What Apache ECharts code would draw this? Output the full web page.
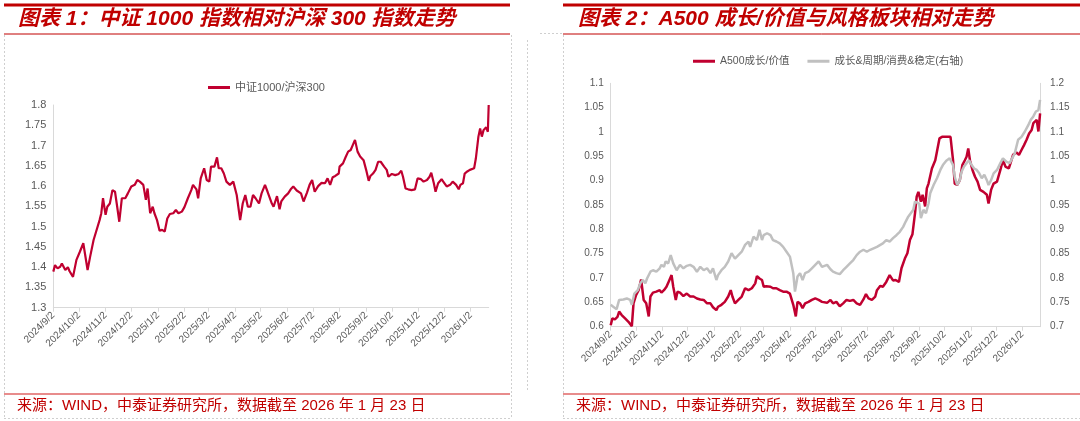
<!DOCTYPE html>
<html>
<head>
<meta charset="utf-8">
<script src="https://cdn.jsdelivr.net/npm/echarts@6/dist/echarts.min.js"></script>
<style>
  html, body { margin: 0; padding: 0; background: #fff; }
  #chart { width: 1080px; height: 421px; }
</style>
</head>
<body>
<div id="chart"></div>
<script>
// calendar days from 2024/9/2 to 2026/1/23, one category per day
const startDay = Date.UTC(2024, 8, 2)
const endDay = Date.UTC(2026, 0, 23)
const dates = []
for (let t = startDay; t <= endDay; t += 86400000) {
  const d = new Date(t)
  dates.push(d.getUTCFullYear() + '/' + (d.getUTCMonth() + 1) + '/' + d.getUTCDate())
}

// 图表1：中证1000/沪深300 (day index since 2024/9/2)
const csiDays = [
  0, 2, 5, 8, 10, 14, 17, 19, 23, 27,
  31, 35, 40, 43, 47, 50, 54, 56, 58, 61,
  63, 66, 69, 72, 74, 77, 80, 84, 87, 91,
  95, 98, 101, 105, 108, 110, 113, 116, 118, 121,
  124, 127, 130, 133, 136, 140, 143, 146, 150, 153,
  157, 161, 163, 167, 169, 172, 176, 179, 182, 184,
  188, 191, 193, 196, 199, 202, 206, 210, 212, 214,
  218, 221, 224, 227, 230, 233, 236, 240, 243, 247,
  250, 252, 255, 257, 261, 264, 266, 270, 274, 277,
  280, 284, 289, 292, 296, 299, 302, 305, 309, 313,
  317, 320, 323, 326, 329, 333, 334, 338, 341, 344,
  347, 350, 352, 355, 358, 362, 365, 368, 370, 373,
  376, 379, 382, 386, 389, 391, 395, 399, 403, 406,
  408, 411, 414, 418, 422, 425, 429, 432, 436, 439,
  441, 444, 446, 449, 453, 456, 459, 463, 466, 470,
  473, 475, 478, 480, 483, 486, 491, 493, 496, 498,
  500, 502, 504, 505, 507, 508
]
const csiRatio = [
  1.389, 1.405, 1.397, 1.401, 1.409, 1.393, 1.400, 1.390, 1.376, 1.418,
  1.438, 1.459, 1.393, 1.426, 1.467, 1.488, 1.516, 1.533, 1.570, 1.529,
  1.549, 1.557, 1.590, 1.586, 1.557, 1.512, 1.570, 1.570, 1.582, 1.599,
  1.603, 1.615, 1.611, 1.603, 1.566, 1.594, 1.533, 1.549, 1.533, 1.516,
  1.490, 1.492, 1.488, 1.520, 1.531, 1.533, 1.541, 1.533, 1.537, 1.548,
  1.570, 1.590, 1.603, 1.592, 1.570, 1.619, 1.644, 1.615, 1.611, 1.648,
  1.648, 1.671, 1.644, 1.644, 1.631, 1.611, 1.603, 1.611, 1.615, 1.578,
  1.516, 1.557, 1.578, 1.549, 1.549, 1.578, 1.570, 1.557, 1.582, 1.603,
  1.586, 1.582, 1.557, 1.549, 1.575, 1.543, 1.562, 1.574, 1.582, 1.592,
  1.599, 1.589, 1.582, 1.562, 1.584, 1.603, 1.615, 1.586, 1.600, 1.608,
  1.607, 1.619, 1.603, 1.622, 1.625, 1.631, 1.648, 1.656, 1.671, 1.685,
  1.689, 1.704, 1.714, 1.685, 1.673, 1.664, 1.640, 1.613, 1.625, 1.631,
  1.640, 1.660, 1.660, 1.648, 1.640, 1.623, 1.630, 1.627, 1.630, 1.638,
  1.623, 1.594, 1.592, 1.590, 1.592, 1.619, 1.617, 1.611, 1.615, 1.623,
  1.633, 1.607, 1.586, 1.607, 1.617, 1.608, 1.599, 1.603, 1.611, 1.603,
  1.592, 1.603, 1.607, 1.631, 1.636, 1.640, 1.644, 1.668, 1.722, 1.742,
  1.722, 1.738, 1.740, 1.745, 1.734, 1.800
]

// 图表2：A500成长/价值（左轴）
const a500Days = [
  0, 2, 5, 8, 10, 13, 17, 21, 25, 27,
  30, 33, 36, 39, 42, 45, 47, 50, 54, 58,
  60, 63, 66, 69, 72, 74, 77, 79, 82, 86,
  90, 94, 98, 102, 106, 110, 114, 118, 121, 125,
  127, 131, 135, 139, 142, 144, 147, 151, 155, 159,
  163, 167, 171, 173, 176, 179, 181, 184, 189, 192,
  196, 200, 204, 208, 212, 216, 219, 221, 224, 227,
  230, 234, 238, 242, 246, 250, 256, 260, 263, 267,
  271, 275, 279, 283, 287, 291, 295, 299, 302, 305,
  309, 313, 315, 319, 322, 326, 330, 334, 337, 341,
  344, 348, 351, 354, 357, 360, 362, 364, 367, 369,
  372, 374, 376, 380, 384, 386, 389, 392, 395, 399,
  402, 405, 407, 410, 413, 416, 419, 421, 423, 425,
  428, 431, 434, 437, 441, 445, 447, 450, 453, 457,
  461, 464, 467, 471, 473, 476, 480, 483, 486, 489,
  492, 495, 498, 500, 502, 504, 506, 508
]
const a500Ratio = [
  0.603, 0.617, 0.615, 0.620, 0.631, 0.624, 0.617, 0.610, 0.601, 0.648,
  0.665, 0.675, 0.697, 0.655, 0.648, 0.621, 0.662, 0.670, 0.672, 0.675,
  0.670, 0.675, 0.682, 0.694, 0.706, 0.682, 0.655, 0.672, 0.670, 0.663,
  0.668, 0.662, 0.662, 0.658, 0.656, 0.655, 0.648, 0.648, 0.640, 0.634,
  0.641, 0.645, 0.651, 0.662, 0.675, 0.662, 0.648, 0.655, 0.662, 0.679,
  0.675, 0.679, 0.689, 0.704, 0.699, 0.696, 0.682, 0.683, 0.682, 0.679,
  0.679, 0.675, 0.672, 0.672, 0.668, 0.645, 0.621, 0.651, 0.648, 0.638,
  0.648, 0.651, 0.655, 0.658, 0.655, 0.651, 0.649, 0.655, 0.648, 0.651,
  0.642, 0.648, 0.655, 0.653, 0.655, 0.648, 0.645, 0.656, 0.667, 0.658,
  0.655, 0.662, 0.675, 0.684, 0.682, 0.692, 0.706, 0.695, 0.696, 0.692,
  0.720, 0.740, 0.751, 0.778, 0.790, 0.833, 0.867, 0.877, 0.857, 0.871,
  0.847, 0.884, 0.894, 0.925, 0.942, 0.960, 0.987, 0.990, 0.990, 0.990,
  0.990, 0.942, 0.894, 0.891, 0.901, 0.932, 0.942, 0.949, 0.966, 0.942,
  0.922, 0.908, 0.898, 0.881, 0.877, 0.871, 0.853, 0.881, 0.894, 0.898,
  0.922, 0.942, 0.929, 0.925, 0.936, 0.953, 0.958, 0.953, 0.963, 0.973,
  0.984, 0.997, 1.004, 1.018, 1.021, 1.025, 1.001, 1.038
]

// 图表2：成长&周期/消费&稳定（右轴）
const styleDays = [
  0, 3, 7, 10, 15, 19, 23, 25, 28, 32,
  35, 38, 41, 43, 47, 50, 54, 58, 60, 63,
  65, 68, 71, 74, 78, 82, 86, 90, 94, 98,
  102, 106, 110, 114, 118, 121, 125, 127, 131, 135,
  139, 143, 147, 151, 155, 159, 163, 165, 169, 173,
  176, 179, 181, 185, 189, 192, 196, 200, 204, 208,
  212, 216, 218, 221, 224, 227, 230, 234, 238, 242,
  246, 250, 256, 260, 263, 267, 271, 275, 279, 283,
  287, 291, 295, 299, 303, 307, 311, 315, 319, 322,
  326, 330, 334, 338, 342, 346, 349, 352, 355, 358,
  360, 362, 365, 367, 370, 373, 376, 378, 382, 386,
  390, 393, 397, 401, 405, 407, 410, 413, 415, 418,
  421, 424, 427, 430, 433, 436, 439, 442, 445, 447,
  450, 453, 457, 461, 464, 468, 472, 474, 478, 482,
  486, 490, 494, 497, 500, 503, 506, 508
]
const styleRatio = [
  0.745, 0.741, 0.736, 0.755, 0.756, 0.758, 0.755, 0.745, 0.768, 0.775,
  0.789, 0.796, 0.789, 0.799, 0.813, 0.816, 0.813, 0.820, 0.827, 0.823,
  0.834, 0.830, 0.847, 0.830, 0.816, 0.827, 0.820, 0.825, 0.827, 0.823,
  0.813, 0.823, 0.816, 0.820, 0.810, 0.820, 0.796, 0.806, 0.816, 0.823,
  0.834, 0.851, 0.840, 0.847, 0.854, 0.868, 0.875, 0.864, 0.885, 0.878,
  0.899, 0.878, 0.888, 0.892, 0.888, 0.878, 0.875, 0.871, 0.864, 0.854,
  0.844, 0.810, 0.772, 0.803, 0.810, 0.796, 0.810, 0.813, 0.820, 0.827,
  0.834, 0.823, 0.827, 0.818, 0.813, 0.810, 0.808, 0.816, 0.823, 0.830,
  0.837, 0.847, 0.854, 0.858, 0.854, 0.858, 0.861, 0.864, 0.868, 0.871,
  0.878, 0.875, 0.882, 0.888, 0.895, 0.905, 0.916, 0.926, 0.933, 0.940,
  0.957, 0.960, 0.953, 0.923, 0.940, 0.933, 0.953, 0.974, 0.991, 1.005,
  1.022, 1.032, 1.041, 1.046, 1.032, 1.008, 0.991, 1.001, 1.018, 1.029,
  1.036, 1.042, 1.032, 1.025, 1.022, 1.015, 1.005, 1.012, 1.001, 0.991,
  1.001, 1.015, 1.022, 1.036, 1.046, 1.039, 1.036, 1.032, 1.056, 1.084,
  1.090, 1.101, 1.114, 1.125, 1.132, 1.142, 1.145, 1.166
]

const titleLeft = '图表 1：中证 1000 指数相对沪深 300 指数走势'
const titleRight = '图表 2：A500 成长/价值与风格板块相对走势'
const sourceText = '来源：WIND，中泰证券研究所，数据截至 2026 年 1 月 23 日'

const RED = '#c00030'
const DARKRED = '#c00000'
const GRAY_LINE = '#c0c0c0'
const AXIS = '#d9d9d9'
const LABEL = '#595959'
const FONT = 'Liberation Sans, Noto Sans CJK SC'

const pairs = (days, vals) => days.map((d, i) => [d, vals[i]])
const monthStart = (i, v) => v.split('/')[2] === '2'
const fmt = v => String(+v.toFixed(2))

function xAxisFor(gridIndex) {
  return {
    type: 'category', gridIndex: gridIndex, data: dates, boundaryGap: false,
    axisLine: { lineStyle: { color: AXIS } },
    axisTick: { show: true, interval: monthStart, length: 4, lineStyle: { color: AXIS } },
    axisLabel: { interval: monthStart, rotate: 45, fontSize: 10, color: LABEL, fontFamily: FONT, margin: 6 },
    splitLine: { show: false }
  }
}
function yAxisFor(gridIndex, min, max, position, fontSize, margin) {
  return {
    type: 'value', gridIndex: gridIndex, min: min, max: max, interval: 0.05, position: position,
    axisLine: { show: true, lineStyle: { color: AXIS } },
    axisTick: { show: false },
    splitLine: { show: false },
    axisLabel: { formatter: fmt, fontSize: fontSize, color: LABEL, fontFamily: FONT, margin: margin }
  }
}

function hline(x1, x2, y, color, w, dash) {
  return { type: 'line', silent: true, shape: { x1: x1, y1: y, x2: x2, y2: y },
    style: { stroke: color, lineWidth: w, lineDash: dash || null } }
}
function vline(x, y1, y2, color, w, dash) {
  return { type: 'line', silent: true, shape: { x1: x, y1: y1, x2: x, y2: y2 },
    style: { stroke: color, lineWidth: w, lineDash: dash || null } }
}
function label(text, x, y, font, color) {
  return { type: 'text', silent: true, x: x, y: y,
    style: { text: text, font: font, fill: color, verticalAlign: 'middle' } }
}

const DOT = '#cfcfcf'
const option = {
  animation: false,
  backgroundColor: '#fff',
  grid: [
    { left: 53.3, top: 105, width: 435.4, height: 202.7 },
    { left: 610.7, top: 83.3, width: 429.4, height: 243.4 }
  ],
  legend: [
    { data: ['中证1000/沪深300'], left: 203, top: 77, icon: 'rect', itemWidth: 22, itemHeight: 3,
      itemGap: 18, textStyle: { fontSize: 11, color: LABEL, fontFamily: FONT } },
    { data: ['A500成长/价值', '成长&周期/消费&稳定(右轴)'], left: 688, top: 51, icon: 'rect',
      itemWidth: 22, itemHeight: 3, itemGap: 18, textStyle: { fontSize: 10.5, color: LABEL, fontFamily: FONT } }
  ],
  xAxis: [xAxisFor(0), xAxisFor(1)],
  yAxis: [
    yAxisFor(0, 1.3, 1.8, 'left', 11, 7),
    yAxisFor(1, 0.6, 1.1, 'left', 10, 7),
    yAxisFor(1, 0.7, 1.2, 'right', 10, 10)
  ],
  series: [
    { name: '中证1000/沪深300', type: 'line', xAxisIndex: 0, yAxisIndex: 0, data: pairs(csiDays, csiRatio),
      showSymbol: false, color: RED, lineStyle: { width: 2.2 } },
    { name: 'A500成长/价值', type: 'line', xAxisIndex: 1, yAxisIndex: 1, data: pairs(a500Days, a500Ratio),
      showSymbol: false, color: RED, lineStyle: { width: 2.5 } },
    { name: '成长&周期/消费&稳定(右轴)', type: 'line', xAxisIndex: 1, yAxisIndex: 2, data: pairs(styleDays, styleRatio),
      showSymbol: false, color: GRAY_LINE, lineStyle: { width: 2.5 } }
  ],
  graphic: [
    // panel frames
    vline(4.5, 35, 418, DOT, 1, [2, 2]),
    vline(511.5, 35, 418, DOT, 1, [2, 2]),
    vline(527.5, 40, 392, DOT, 1, [2, 2]),
    vline(563.5, 35, 418, DOT, 1, [2, 2]),
    hline(4, 511, 418.5, DOT, 1, [2, 2]),
    hline(563, 1080, 418.5, DOT, 1, [2, 2]),
    hline(540, 563, 33.5, DOT, 1, [2, 2]),
    // red rules
    hline(4, 510, 5, DARKRED, 3),
    hline(563, 1080, 5, DARKRED, 3),
    hline(4, 510, 34, DARKRED, 1),
    hline(563, 1080, 34, DARKRED, 1),
    hline(4, 510, 394, '#e06666', 1.5),
    hline(563, 1080, 394, '#e06666', 1.5),
    // titles and sources
    label(titleLeft, 18, 19, 'italic bold 21px ' + FONT, DARKRED),
    label(titleRight, 578, 19, 'italic bold 21px ' + FONT, DARKRED),
    label(sourceText, 17, 406, '15px ' + FONT, DARKRED),
    label(sourceText, 576, 406, '15px ' + FONT, DARKRED)
  ]
}

const chart = echarts.init(document.getElementById('chart'))
chart.setOption(option)
window.onresize = () => {
  chart.resize()
}
</script>
</body>
</html>
